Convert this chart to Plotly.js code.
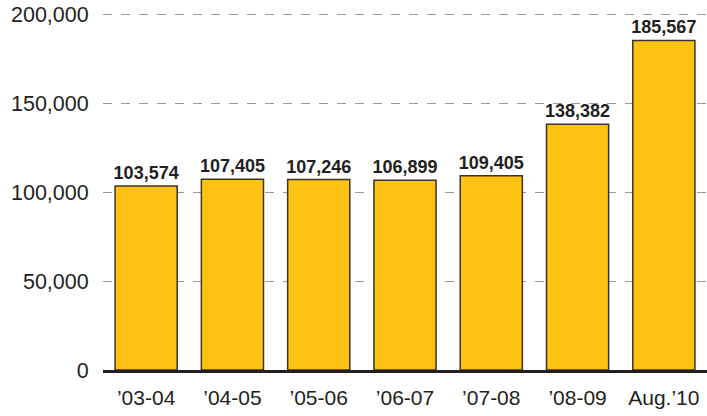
<!DOCTYPE html>
<html><head><meta charset="utf-8">
<script src="https://cdn.plot.ly/plotly-3.0.1.min.js"></script>
<style>body{margin:0;background:#fff}#c{width:707px;height:416px}</style>
</head><body><div id="c"></div>
<script>
const categories = ["\u201903-04","\u201904-05","\u201905-06","\u201906-07","\u201907-08","\u201908-09","Aug.\u201910"];
const values = [103574,107405,107246,106899,109405,138382,185567];
const tickVals = [0,50000,100000,150000,200000];
const tickText = ["0","50,000","100,000","150,000","200,000"];

const trace = {
  type:'bar', x:categories, y:values,
  marker:{color:'#FDC212', line:{color:'#3b3424', width:1.5}},
  text: values.map(v=>v.toLocaleString('en-US')),
  textposition:'outside', constraintext:'none', cliponaxis:false,
  textfont:{family:'Liberation Sans, Arial, sans-serif', size:18, color:'#231f20', weight:'bold'},
  hoverinfo:'none'
};
const layout = {
  width:707, height:416,
  margin:{l:103, r:0, t:13, b:46},
  paper_bgcolor:'#fff', plot_bgcolor:'#fff',
  bargap:0.28, showlegend:false,
  font:{family:'Liberation Sans, Arial, sans-serif', color:'#231f20'},
  xaxis:{showgrid:false, showline:true, linecolor:'#231f20', linewidth:2.5,
         tickfont:{size:21}, ticks:'outside', ticklen:7, tickcolor:'rgba(0,0,0,0)', fixedrange:true},
  yaxis:{range:[0,201000], tickvals:tickVals, ticktext:tickText, showgrid:true,
         gridcolor:'#9a9a9a', gridwidth:1.3, griddash:'dash', zeroline:false, showline:false,
         tickfont:{size:21.5}, ticks:'outside', ticklen:9, tickcolor:'rgba(0,0,0,0)', fixedrange:true}
};
Plotly.newPlot('c',[trace],layout,{displayModeBar:false,staticPlot:true});
</script></body></html>
